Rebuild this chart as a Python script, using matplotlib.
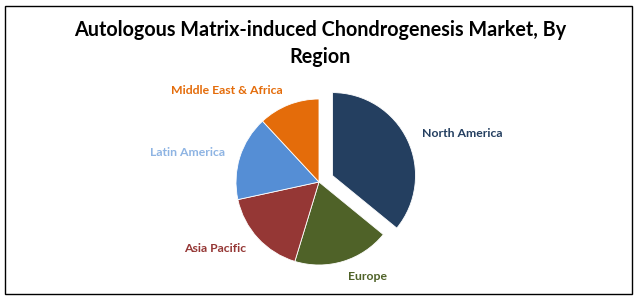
import matplotlib.pyplot as plt
from matplotlib.patches import Rectangle

regions = ['North America', 'Europe', 'Asia Pacific', 'Latin America', 'Middle East & Africa']
shares = [35.9, 18.8, 16.9, 16.5, 11.9]
wedge_colors = ['#243F60', '#4F6228', '#953735', '#558ED5', '#E46C0A']
label_colors = ['#243F60', '#4F6228', '#953735', '#8EB4E3', '#E46C0A']
explode = [0.18, 0, 0, 0, 0]

W, H = 641, 303
R = 83.0           # pie radius in pixels
CX, CY = 319, 182  # pie centre, pixels from top-left

fig = plt.figure(figsize=(W / 100, H / 100), dpi=100)
ax = fig.add_axes([0, 0, 1, 1])

wedges, texts = ax.pie(shares, colors=wedge_colors, explode=explode,
                       startangle=90, counterclock=False, labels=regions,
                       labeldistance=1.19,
                       wedgeprops=dict(edgecolor='white', linewidth=0.6))
for t, c in zip(texts, label_colors):
    t.set_color(c)
    t.set_fontweight('bold')
    t.set_fontsize(8.8)
    t.set_family('Lato')

ax.set_xlim(-CX / R, (W - CX) / R)
ax.set_ylim(-(H - CY) / R, CY / R)
ax.set_aspect('auto')
ax.axis('off')

fig.text(0.5, 1 - 43.5 / H, 'Autologous Matrix-induced Chondrogenesis Market, By\nRegion',
         ha='center', va='center', fontsize=14.2, fontweight='bold',
         family='Lato', linespacing=1.4)

fig.add_artist(Rectangle((5 / W, (H - 294) / H), (632 - 5) / W, (294 - 6) / H,
                         transform=fig.transFigure, fill=False, ec='black', lw=1))

fig.savefig('out.png', dpi=100)
